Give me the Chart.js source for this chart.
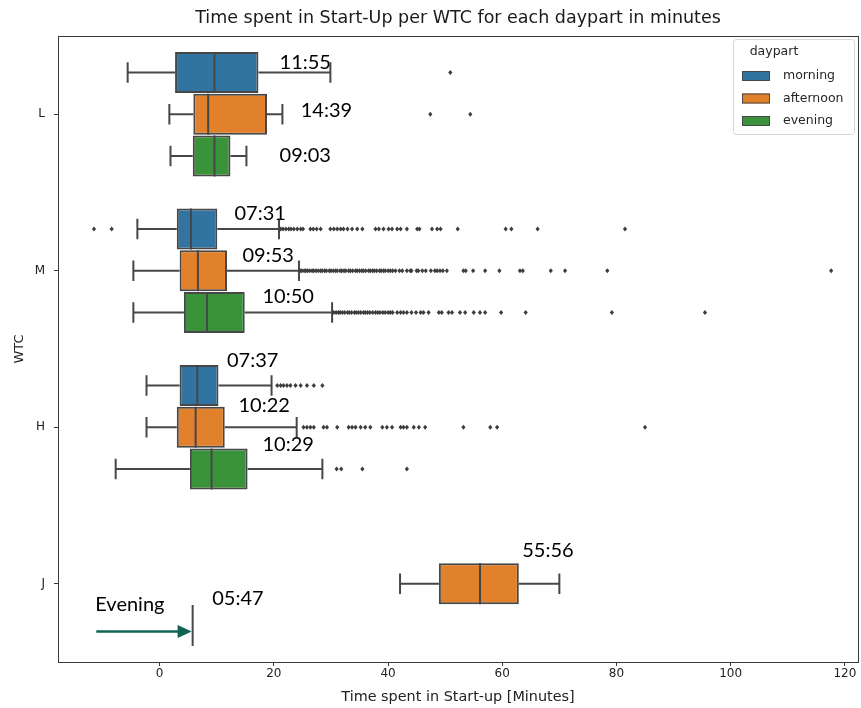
<!DOCTYPE html>
<html>
<head>
<meta charset="utf-8">
<script src="https://cdn.jsdelivr.net/npm/chart.js@4.4.1/dist/chart.umd.min.js"></script>
<style>
  html, body { margin: 0; padding: 0; background: #ffffff; }
  #wrap { width: 861px; height: 708px; position: relative; }
</style>
</head>
<body>
<div id="wrap"><canvas id="chart"></canvas></div>
<script>
// ---- data (minutes) ----
const categories = ['L', 'M', 'H', 'J'];
const dayparts = ['morning', 'afternoon', 'evening'];
const xTicks = [0, 20, 40, 60, 80, 100, 120];

// [lower whisker, Q1, median, Q3, upper whisker] per WTC
const morningStats = [
  [-5.6, 2.7, 9.6, 17.3, 29.9],
  [-3.9, 3.0, 5.5, 10.1, 20.9],
  [-2.3, 3.5, 6.6, 10.3, 19.6],
  null
];
const afternoonStats = [
  [1.7, 5.9, 8.5, 18.8, 21.5],
  [-4.6, 3.5, 6.7, 11.8, 24.4],
  [-2.3, 3.0, 6.3, 11.4, 24.0],
  [42.1, 48.9, 56.1, 62.9, 70.0]
];
const eveningStats = [
  [1.9, 5.8, 9.6, 12.4, 15.2],
  [-4.6, 4.25, 8.3, 14.9, 30.2],
  [-7.7, 5.3, 9.1, 15.4, 28.5],
  [5.78, 5.78, 5.78, 5.78, 5.78]
];

// points beyond the whiskers
const morningOutliers = [
  [50.9],
  [-11.5, -8.4, 21.2, 21.6, 22.1, 22.6, 23.0, 23.5, 24.1, 24.7, 25.1, 26.4, 26.9, 27.5, 28.2,
   29.9, 30.5, 31.1, 31.7, 32.2, 32.9, 33.7, 34.6, 35.5, 37.8, 38.4, 39.2, 40.1, 40.7, 41.6,
   42.2, 43.3, 45.1, 45.5, 47.7, 48.6, 49.2, 52.2, 60.6, 61.6, 66.2, 81.5],
  [20.6, 21.2, 21.7, 22.3, 22.9, 23.8, 24.7, 25.8, 27.0, 28.5],
  []
];
const afternoonOutliers = [
  [47.4, 54.4],
  [24.6, 24.9, 25.3, 25.6, 25.9, 26.3, 26.7, 27.0, 27.4, 27.8, 28.2, 28.5, 28.9, 29.2, 29.7,
   30.0, 30.4, 30.8, 31.1, 31.6, 31.9, 32.3, 32.6, 33.1, 33.4, 33.8, 34.3, 34.6, 35.0, 35.4,
   35.7, 36.1, 36.6, 36.9, 37.3, 37.6, 38.0, 38.5, 38.8, 39.2, 39.5, 40.0, 40.4, 40.8, 41.3,
   42.0, 42.5, 43.3, 43.9, 44.1, 45.0, 45.3, 46.0, 46.6, 47.5, 48.2, 48.6, 49.1, 49.6, 50.3,
   53.2, 53.6, 54.9, 57.0, 59.5, 63.1, 63.6, 68.5, 71.0, 78.4, 117.6],
  [25.2, 25.8, 26.4, 27.0, 28.7, 29.3, 31.1, 33.1, 33.7, 34.3, 35.2, 36.0, 36.9, 39.0, 39.8,
   40.7, 42.2, 42.7, 43.3, 44.5, 45.4, 46.5, 53.2, 57.9, 59.1, 85.0],
  []
];
const eveningOutliers = [
  [],
  [30.5, 30.9, 31.3, 31.6, 32.0, 32.4, 32.9, 33.2, 33.6, 34.1, 34.4, 34.8, 35.2, 35.7, 36.0,
   36.4, 36.8, 37.3, 37.8, 38.2, 38.6, 39.1, 39.5, 40.0, 40.4, 40.8, 41.6, 42.2, 42.7, 43.3,
   44.1, 44.9, 45.7, 46.2, 47.1, 48.9, 49.4, 50.6, 51.2, 52.6, 53.5, 55.0, 56.1, 57.0, 59.8,
   64.1, 79.2, 95.5],
  [31.0, 31.8, 35.5, 43.3],
  []
];

// mean time (mm:ss) written beside each box
const morningMean = ['11:55', '07:31', '07:37', null];
const afternoonMean = ['14:39', '09:53', '10:22', '55:56'];
const eveningMean = ['09:03', '10:50', '10:29', '05:47'];

// ---- layout of the annotations: [start x in minutes, vertical shift in px] ----
const morningMeanPos = [[21.0, -10], [13.1, -15], [11.8, -25], null];
const afternoonMeanPos = [[24.7, -4], [14.5, -15], [13.8, -22], [63.5, -33]];
const eveningMeanPos = [[21.0, 0], [18.0, -16], [18.0, -24], [9.2, -27]];

const allStats = [morningStats, afternoonStats, eveningStats];
const allOutliers = [morningOutliers, afternoonOutliers, eveningOutliers];
const allMeans = [morningMean, afternoonMean, eveningMean];
const allMeanPos = [morningMeanPos, afternoonMeanPos, eveningMeanPos];

const fills = ['#3274a1', '#e1812c', '#3a923a'];
const edge = '#474747';
const axisFont = 'DejaVu Sans';
const noteFont = 'Lato';

// whiskers, caps, medians and fliers on top of the Q1–Q3 bars
const boxDetails = {
  id: 'boxDetails',
  afterDatasetsDraw(chart) {
    const ctx = chart.ctx;
    const x = chart.scales.x;
    ctx.save();
    allStats.forEach((stats, di) => {
      const meta = chart.getDatasetMeta(di);
      stats.forEach((s, ci) => {
        if (!s) return;
        const el = meta.data[ci];
        const yc = el.y, h = el.height;
        const [lo, q1, med, q3, hi] = s.map(v => x.getPixelForValue(v));
        ctx.strokeStyle = edge;
        ctx.lineWidth = 2;
        ctx.lineCap = 'butt';
        ctx.beginPath();
        ctx.moveTo(lo, yc); ctx.lineTo(q1, yc);
        ctx.moveTo(q3, yc); ctx.lineTo(hi, yc);
        ctx.moveTo(lo, yc - h / 4); ctx.lineTo(lo, yc + h / 4);
        ctx.moveTo(hi, yc - h / 4); ctx.lineTo(hi, yc + h / 4);
        ctx.moveTo(med, yc - h / 2); ctx.lineTo(med, yc + h / 2);
        ctx.stroke();
        ctx.fillStyle = '#3d3d3d';
        allOutliers[di][ci].forEach(v => {
          const px = x.getPixelForValue(v);
          ctx.beginPath();
          ctx.moveTo(px, yc - 2.6);
          ctx.lineTo(px + 2.1, yc);
          ctx.lineTo(px, yc + 2.6);
          ctx.lineTo(px - 2.1, yc);
          ctx.closePath();
          ctx.fill();
        });
      });
    });
    ctx.restore();
  }
};

// mean labels, evening arrow, frame and legend
const overlay = {
  id: 'overlay',
  afterDraw(chart) {
    const ctx = chart.ctx;
    const x = chart.scales.x;
    const a = chart.chartArea;
    ctx.save();

    // frame around the plotting area
    ctx.strokeStyle = '#3a3a3a';
    ctx.lineWidth = 1;
    ctx.strokeRect(Math.round(a.left) + 0.5, Math.round(a.top) + 0.5,
                   Math.round(a.right - a.left), Math.round(a.bottom - a.top));

    // mean labels
    ctx.fillStyle = '#000';
    ctx.font = '20px ' + noteFont;
    ctx.textAlign = 'left';
    ctx.textBaseline = 'middle';
    allMeans.forEach((labels, di) => {
      const meta = chart.getDatasetMeta(di);
      labels.forEach((txt, ci) => {
        if (!txt) return;
        const pos = allMeanPos[di][ci];
        const el = meta.data[ci];
        ctx.fillText(txt, x.getPixelForValue(pos[0]), el.y + pos[1]);
      });
    });

    // arrow pointing at the single evening value of J
    const jEvening = chart.getDatasetMeta(2).data[3];
    const tipX = x.getPixelForValue(eveningStats[3][2]);
    const startX = x.getPixelForValue(-11.1);
    const ay = jEvening.y + 6;
    ctx.strokeStyle = '#0f6453';
    ctx.fillStyle = '#0f6453';
    ctx.lineWidth = 2.5;
    ctx.beginPath();
    ctx.moveTo(startX, ay);
    ctx.lineTo(tipX - 12, ay);
    ctx.stroke();
    ctx.beginPath();
    ctx.moveTo(tipX - 1, ay);
    ctx.lineTo(tipX - 15, ay - 6.5);
    ctx.lineTo(tipX - 15, ay + 6.5);
    ctx.closePath();
    ctx.fill();
    ctx.fillStyle = '#000';
    ctx.fillText('Evening', startX - 1, jEvening.y - 21);

    // legend
    const lw = 121, lh = 95;
    const lx = a.right - lw - 4, ly = a.top + 3;
    ctx.fillStyle = 'rgba(255,255,255,0.85)';
    ctx.strokeStyle = '#d6d6d6';
    ctx.lineWidth = 1;
    ctx.beginPath();
    ctx.roundRect(lx + 0.5, ly + 0.5, lw, lh, 3);
    ctx.fill();
    ctx.stroke();
    ctx.font = '12.5px ' + axisFont;
    ctx.fillStyle = '#262626';
    ctx.textAlign = 'center';
    ctx.fillText('daypart', lx + 41, ly + 13);
    ctx.textAlign = 'left';
    chart.data.datasets.forEach((ds, i) => {
      const yy = ly + 37 + i * 22.5;
      ctx.fillStyle = ds.backgroundColor;
      ctx.fillRect(lx + 9, yy - 5, 28, 10);
      ctx.strokeStyle = edge;
      ctx.lineWidth = 1;
      ctx.strokeRect(lx + 9.5, yy - 4.5, 27, 9);
      ctx.fillStyle = '#262626';
      ctx.fillText(ds.label, lx + 50, yy);
    });
    ctx.restore();
  }
};

const datasets = dayparts.map((name, di) => ({
  label: name,
  data: allStats[di].map(s => (s ? [s[1], s[3]] : null)),
  backgroundColor: fills[di],
  borderColor: edge,
  borderWidth: 2,
  borderSkipped: false,
  categoryPercentage: 0.8,
  barPercentage: 0.98
}));

new Chart(document.getElementById('chart'), {
  type: 'bar',
  data: { labels: categories, datasets },
  options: {
    indexAxis: 'y',
    responsive: true,
    maintainAspectRatio: false,
    animation: false,
    layout: { padding: { left: 0, right: 3, top: 0, bottom: 0 } },
    plugins: {
      legend: { display: false },
      tooltip: { enabled: false },
      title: {
        display: true,
        fullSize: false,
        text: 'Time spent in Start-Up per WTC for each daypart in minutes',
        color: '#1a1a1a',
        font: { family: axisFont, size: 17.5, weight: 'normal', lineHeight: 1.2 },
        padding: { top: 8, bottom: 7 }
      }
    },
    scales: {
      x: {
        type: 'linear',
        min: -17.8,
        max: 122.3,
        afterBuildTicks(scale) { scale.ticks = xTicks.map(v => ({ value: v })); },
        afterFit(scale) { scale.height = 46; },
        grid: { display: true, drawOnChartArea: false, drawTicks: true, tickLength: 4, color: '#3a3a3a' },
        border: { display: true, color: '#3a3a3a' },
        ticks: { color: '#222', font: { family: axisFont, size: 12 }, padding: 1, maxRotation: 0 },
        title: {
          display: true,
          text: 'Time spent in Start-up [Minutes]',
          color: '#222',
          font: { family: axisFont, size: 14.4 },
          padding: { top: 0, bottom: 2.4 }
        }
      },
      y: {
        type: 'category',
        afterFit(scale) { scale.width = 58; },
        grid: { display: true, offset: false, drawOnChartArea: false, drawTicks: true, tickLength: 4, color: '#3a3a3a' },
        border: { display: true, color: '#3a3a3a' },
        ticks: { color: '#222', font: { family: axisFont, size: 12 }, padding: 9 },
        title: {
          display: true,
          text: 'WTC',
          color: '#222',
          font: { family: axisFont, size: 13 },
          padding: { top: 12, bottom: 4 }
        }
      }
    }
  },
  plugins: [boxDetails, overlay]
});
</script>
</body>
</html>
